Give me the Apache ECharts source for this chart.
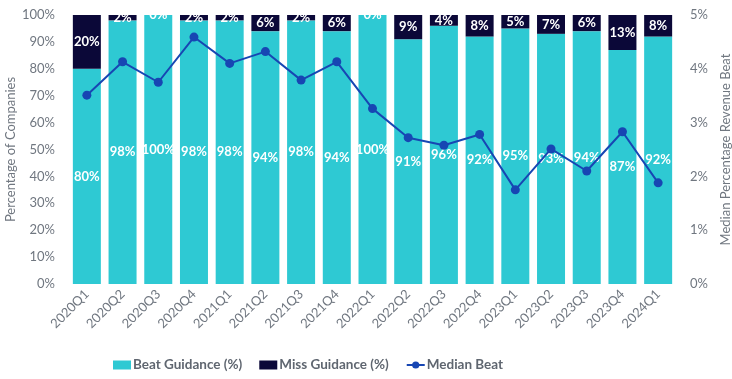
<!DOCTYPE html>
<html><head><meta charset="utf-8">
<script src="https://cdn.jsdelivr.net/npm/echarts@6/dist/echarts.min.js"></script>
<style>html,body{margin:0;padding:0;background:#fff}#c{width:732px;height:379px}</style>
</head><body><div id="c"></div>
<script>
const categories = ['2020Q1','2020Q2','2020Q3','2020Q4','2021Q1','2021Q2','2021Q3','2021Q4','2022Q1','2022Q2','2022Q3','2022Q4','2023Q1','2023Q2','2023Q3','2023Q4','2024Q1'];
const beatGuidance = [80,98,100,98,98,94,98,94,100,91,96,92,95,93,94,87,92];
const missGuidance = [20,2,0,2,2,6,2,6,0,9,4,8,5,7,6,13,8];
const medianBeat = [3.51,4.13,3.75,4.59,4.10,4.32,3.79,4.13,3.26,2.72,2.58,2.78,1.75,2.51,2.10,2.83,1.88];
const leftTicks = [0,10,20,30,40,50,60,70,80,90,100];
const rightTicks = [0,1,2,3,4,5];

const FONT = 'Lato';
const chart = echarts.init(document.getElementById('c'), null, {renderer:'canvas'});
const lbl = {show:true, position:'inside', color:'#fff', fontWeight:'bold', fontSize:13, fontFamily:FONT, formatter: p => p.value + '%'};
chart.setOption({
  animation:false,
  textStyle:{fontFamily:FONT},
  grid:{left:69, right:56, top:15, bottom:95, containLabel:false, outerBoundsMode:'none'},
  legend:{
    left:108, top:353, itemWidth:18, itemHeight:9, itemGap:17,
    textStyle:{color:'#5f6670', fontWeight:'bold', fontSize:13.5, fontFamily:FONT, padding:[0,0,0,-3]},
    data:[{name:'Beat Guidance (%)', icon:'rect'},{name:'Miss Guidance (%)', icon:'rect'},{name:'Median Beat'}]
  },
  xAxis:{type:'category', data:categories,
    axisLine:{show:false}, axisTick:{show:false},
    axisLabel:{rotate:45, color:'#707780', fontSize:13, fontFamily:FONT, margin:8, interval:0}},
  yAxis:[
    {type:'value', min:leftTicks[0], max:leftTicks[leftTicks.length-1], interval:10,
     name:'Percentage of Companies', nameLocation:'middle', nameGap:52, nameRotate:90, nameMoveOverlap:false,
     nameTextStyle:{color:'#707780', fontSize:13, fontFamily:FONT},
     axisLabel:{formatter:'{value}%', color:'#707780', fontSize:13, fontFamily:FONT, margin:14},
     splitLine:{show:false}, axisLine:{show:false}, axisTick:{show:false}},
    {type:'value', min:rightTicks[0], max:rightTicks[rightTicks.length-1], interval:1,
     name:'Median Percentage Revenue Beat', nameLocation:'middle', nameGap:41, nameRotate:90,
     nameTextStyle:{color:'#707780', fontSize:13, fontFamily:FONT},
     axisLabel:{formatter:'{value}%', color:'#707780', fontSize:13, fontFamily:FONT, margin:14},
     splitLine:{show:false}, axisLine:{show:false}, axisTick:{show:false}}
  ],
  series:[
    {name:'Beat Guidance (%)', type:'bar', stack:'g', data:beatGuidance, barWidth:28,
     itemStyle:{color:'#2ec9d3'}, label:lbl},
    {name:'Miss Guidance (%)', type:'bar', stack:'g', data:missGuidance, barWidth:28,
     itemStyle:{color:'#0b0838'}, label:lbl},
    {name:'Median Beat', type:'line', yAxisIndex:1, data:medianBeat,
     symbol:'circle', symbolSize:9, lineStyle:{color:'#1746b3', width:2},
     itemStyle:{color:'#1746b3'}, z:5}
  ],
  graphic:[{type:'rect', shape:{x:66, y:0, width:613, height:15}, style:{fill:'#fff'}, z:100}]
});
</script></body></html>
